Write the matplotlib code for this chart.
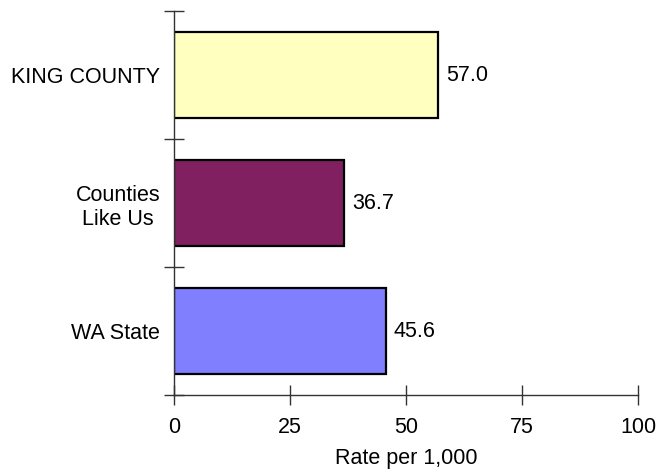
import matplotlib.pyplot as plt

plt.rcParams['font.family'] = ['Liberation Sans', 'DejaVu Sans']

# Datos
categories = ["KING COUNTY", "Counties\nLike Us", "WA State"]
values = [57.0, 36.7, 45.6]
colors = ["#FFFFC0", "#802060", "#8080FF"]
xticks = [0, 25, 50, 75, 100]

fs = 15.5

fig = plt.figure(figsize=(6.58, 4.73), dpi=100)
ax = fig.add_axes([0.2644, 0.1649, 0.7052, 0.8118])

pos = [2, 1, 0]
ax.barh(pos, values, height=0.67, color=colors, edgecolor="black", linewidth=1.6)

for p, v in zip(pos, values):
    ax.text(v + 1.7, p, f"{v:.1f}", va="center", ha="left", fontsize=fs)

ax.set_xlim(0, 100)
ax.set_ylim(-0.5, 2.5)

ax.set_xticks(xticks)
ax.set_xticklabels([str(t) for t in xticks], fontsize=fs)
ax.tick_params(axis="x", direction="inout", length=14, width=1, color="#333333", pad=9)

# marcas entre categorias, etiquetas en el centro
ax.set_yticks([-0.5, 0.5, 1.5, 2.5])
ax.set_yticklabels([])
ax.tick_params(axis="y", which="major", direction="inout", length=14, width=1, color="#333333")
ax.set_yticks(pos, minor=True)
ax.set_yticklabels(categories, minor=True, fontsize=fs, multialignment="center")
ax.tick_params(axis="y", which="minor", length=0, pad=10)

ax.set_xlabel("Rate per 1,000", fontsize=fs, labelpad=7)

for s in ["top", "right"]:
    ax.spines[s].set_visible(False)
for s in ["left", "bottom"]:
    ax.spines[s].set_color("#333333")
    ax.spines[s].set_linewidth(1)

fig.savefig("out.png", dpi=100)
